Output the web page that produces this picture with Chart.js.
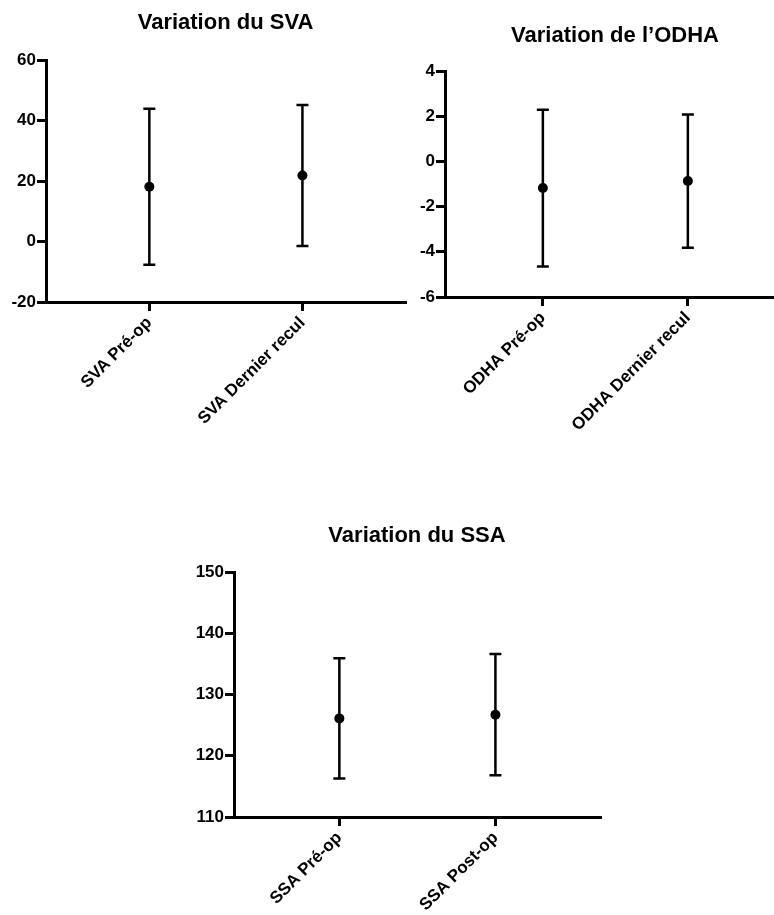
<!DOCTYPE html>
<html>
<head>
<meta charset="utf-8">
<script src="https://cdn.jsdelivr.net/npm/chart.js@4.4.1/dist/chart.umd.min.js"></script>
<style>
  body { margin: 0; background: #fff; overflow: hidden; }
  #page { position: relative; width: 774px; height: 915px; overflow: hidden; background: #fff; }
  canvas { position: absolute; }
</style>
</head>
<body>
<div id="page">
  <canvas id="svaChart" width="410" height="440" style="left:0px;top:0px"></canvas>
  <canvas id="odhaChart" width="400" height="440" style="left:390px;top:0px"></canvas>
  <canvas id="ssaChart" width="430" height="425" style="left:180px;top:490px"></canvas>
</div>
<script>
// SVA
const svaLabels = ["SVA Pré-op", "SVA Dernier recul"];
const svaMeans = [18.1, 21.8];
const svaSD = [25.8, 23.3];
const svaTicks = [-20, 0, 20, 40, 60];

// ODHA
const odhaLabels = ["ODHA Pré-op", "ODHA Dernier recul"];
const odhaMeans = [-1.18, -0.87];
const odhaSD = [3.47, 2.95];
const odhaTicks = [-6, -4, -2, 0, 2, 4];

// SSA
const ssaLabels = ["SSA Pré-op", "SSA Post-op"];
const ssaMeans = [126.1, 126.7];
const ssaSD = [9.8, 9.9];
const ssaTicks = [110, 120, 130, 140, 150];

const FONT = '"Liberation Sans", Arial, Helvetica, sans-serif';
const X_MIN = -0.675;
const X_MAX = 1.67;

// mean +/- SD bars, drawn under the dots
const errorBarPlugin = {
  id: "errorBars",
  beforeDatasetsDraw(chart, args, opts) {
    const { ctx, scales: { x, y } } = chart;
    const sds = opts.sds || [];
    ctx.save();
    ctx.strokeStyle = "#000";
    ctx.lineWidth = 2.5;
    chart.data.datasets[0].data.forEach((pt, i) => {
      const px = x.getPixelForValue(pt.x);
      const top = y.getPixelForValue(pt.y + sds[i]);
      const bot = y.getPixelForValue(pt.y - sds[i]);
      ctx.beginPath();
      ctx.moveTo(px, top);
      ctx.lineTo(px, bot);
      ctx.moveTo(px - 6, top);
      ctx.lineTo(px + 6, top);
      ctx.moveTo(px - 6, bot);
      ctx.lineTo(px + 6, bot);
      ctx.stroke();
    });
    ctx.restore();
  },
};

// title centred over the plot area (not the whole canvas)
const panelTitlePlugin = {
  id: "panelTitle",
  afterDraw(chart, args, opts) {
    const { ctx, chartArea } = chart;
    ctx.save();
    ctx.fillStyle = "#000";
    ctx.font = "bold 22px " + FONT;
    ctx.textAlign = "center";
    ctx.textBaseline = "alphabetic";
    ctx.fillText(opts.text, (chartArea.left + chartArea.right) / 2, opts.y);
    ctx.restore();
  },
};

function createPanel(canvasId, title, labels, means, sds, ticks, box) {
  const canvas = document.getElementById(canvasId);
  if (!canvas) {
    console.error(`Canvas ${canvasId} not found`);
    return null;
  }
  const ctx = canvas.getContext("2d");

  return new Chart(ctx, {
    type: "scatter",
    data: {
      datasets: [
        {
          data: means.map((m, i) => ({ x: i, y: m })),
          pointRadius: 5,
          pointHoverRadius: 5,
          pointBorderWidth: 0,
          backgroundColor: "#000",
          borderColor: "#000",
        },
      ],
    },
    options: {
      responsive: false,
      animation: false,
      devicePixelRatio: 1,
      layout: { padding: { top: box.top, right: box.right, left: 0, bottom: 0 } },
      plugins: {
        legend: { display: false },
        tooltip: { enabled: false },
        errorBars: { sds: sds },
        panelTitle: { text: title, y: box.titleY },
      },
      scales: {
        x: {
          type: "linear",
          min: X_MIN,
          max: X_MAX,
          afterBuildTicks: (s) => {
            s.ticks = labels.map((_, i) => ({ value: i }));
          },
          afterFit: (s) => {
            s.height = box.xHeight;
          },
          ticks: {
            autoSkip: false,
            minRotation: 45,
            maxRotation: 45,
            color: "#000",
            padding: 2,
            font: { family: FONT, size: 17, weight: "bold" },
            callback: (value, index) => labels[index],
          },
          grid: {
            drawOnChartArea: false,
            drawTicks: true,
            tickLength: 9,
            lineWidth: 3,
            color: "#000",
          },
          border: { display: true, color: "#000", width: 3 },
        },
        y: {
          min: ticks[0],
          max: ticks[ticks.length - 1],
          afterBuildTicks: (s) => {
            s.ticks = ticks.map((v) => ({ value: v }));
          },
          afterFit: (s) => {
            s.width = box.yWidth;
          },
          ticks: {
            color: "#000",
            padding: 1,
            font: { family: FONT, size: 17, weight: "bold" },
          },
          grid: {
            drawOnChartArea: false,
            drawTicks: true,
            tickLength: 9,
            lineWidth: 3,
            color: "#000",
          },
          border: { display: true, color: "#000", width: 3 },
        },
      },
    },
    plugins: [errorBarPlugin, panelTitlePlugin],
  });
}

createPanel("svaChart", "Variation du SVA", svaLabels, svaMeans, svaSD, svaTicks,
  { top: 60, right: 3, yWidth: 46, xHeight: 138, titleY: 29 });
createPanel("odhaChart", "Variation de l\u2019ODHA", odhaLabels, odhaMeans, odhaSD, odhaTicks,
  { top: 71, right: 3, yWidth: 55, xHeight: 143, titleY: 42 });
createPanel("ssaChart", "Variation du SSA", ssaLabels, ssaMeans, ssaSD, ssaTicks,
  { top: 82, right: 10, yWidth: 54, xHeight: 98, titleY: 52 });
</script>
</body>
</html>
